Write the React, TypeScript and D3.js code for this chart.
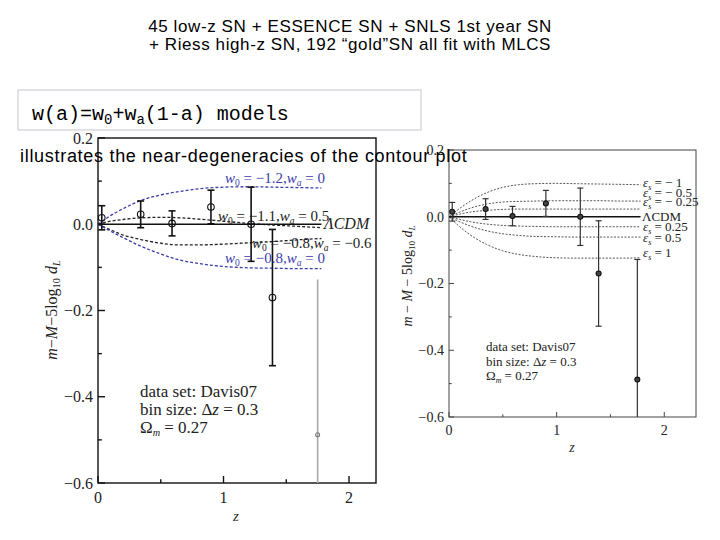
import React from 'react';
import * as d3 from 'd3';

const TITLE_LINES = [
  '45 low-z SN + ESSENCE SN + SNLS 1st year SN',
  '+ Riess high-z SN, 192 “gold”SN all fit with MLCS',
];
const SUBTITLE = 'illustrates the near-degeneracies of the contour plot';

// binned data (Davis07, bin size 0.3)
const binZ = [0.03, 0.34, 0.59, 0.9, 1.22, 1.39, 1.75];
const binMu = [0.015, 0.023, 0.002, 0.04, 0.0, -0.17, -0.488];
const binErr = [0.028, 0.031, 0.029, 0.039, 0.086, 0.158, 0.36];

// model curves
const curveZ = [0, 0.1, 0.2, 0.35, 0.5, 0.65, 0.8, 1.0, 1.2, 1.4, 1.6, 1.78];
const wBlueUp = [0, 0.02, 0.036, 0.056, 0.068, 0.076, 0.082, 0.086, 0.087, 0.086, 0.085, 0.084];
const wBlackUp = [0, 0.007, 0.011, 0.015, 0.016, 0.015, 0.012, 0.007, 0.002, -0.002, -0.005, -0.008];
const wBlackDown = [0, -0.013, -0.025, -0.036, -0.044, -0.048, -0.048, -0.046, -0.043, -0.04, -0.036, -0.033];
const wBlueDown = [0, -0.016, -0.031, -0.052, -0.069, -0.083, -0.091, -0.098, -0.101, -0.102, -0.103, -0.103];

const epsM1 = [0, 0.025, 0.047, 0.072, 0.088, 0.096, 0.099, 0.1, 0.099, 0.098, 0.097, 0.096];
const epsM05 = [0, 0.014, 0.026, 0.038, 0.044, 0.046, 0.047, 0.048, 0.048, 0.048, 0.047, 0.047];
const epsM025 = [0, 0.008, 0.014, 0.019, 0.022, 0.023, 0.023, 0.023, 0.023, 0.023, 0.023, 0.023];
const epsP025 = [0, -0.008, -0.015, -0.022, -0.026, -0.028, -0.029, -0.03, -0.03, -0.03, -0.03, -0.03];
const epsP05 = [0, -0.015, -0.028, -0.042, -0.051, -0.056, -0.059, -0.06, -0.061, -0.061, -0.061, -0.061];
const epsP1 = [0, -0.03, -0.055, -0.083, -0.102, -0.113, -0.119, -0.123, -0.124, -0.124, -0.124, -0.123];

const yTicks = [0.2, 0, -0.2, -0.4, -0.6];
const yMinor = [0.1, -0.1, -0.3, -0.5];
const xTicks = [0, 1, 2];
const xMinor = [0.5, 1.5];

const fmt = d3.format('.1f');
const SERIF = '"Liberation Serif", "Times New Roman", serif';
const SANS = '"Liberation Sans", Arial, sans-serif';

type Sc = d3.ScaleLinear<number, number>;

function curvePath(x: Sc, y: Sc, vals: number[]) {
  const line = d3
    .line<number>()
    .x((_, i) => x(curveZ[i]))
    .y((v) => y(v))
    .curve(d3.curveMonotoneX);
  return line(vals) || '';
}

function Axes({ x, y, fs, tick, labelGap, stroke, sw }: { x: Sc; y: Sc; fs: number; tick: number; labelGap: number; stroke: string; sw: number }) {
  const [x0, x1] = x.range();
  const [y0, y1] = y.range();
  return (
    <g>
      <rect x={x0} y={y1} width={x1 - x0} height={y0 - y1} fill="none" stroke={stroke} strokeWidth={sw} />
      {yTicks.map((t) => (
        <g key={'y' + t}>
          <line x1={x0} x2={x0 + tick} y1={y(t)} y2={y(t)} stroke={stroke} strokeWidth={sw} />
          <text x={x0 - 5} y={y(t)} dy="0.35em" textAnchor="end" fontFamily={SERIF} fontSize={fs} fill="#222">
            {fmt(t)}
          </text>
        </g>
      ))}
      {yMinor.map((t) => (
        <line key={'ym' + t} x1={x0} x2={x0 + tick * 0.55} y1={y(t)} y2={y(t)} stroke={stroke} strokeWidth={sw} />
      ))}
      {xTicks.map((t) => (
        <g key={'x' + t}>
          <line x1={x(t)} x2={x(t)} y1={y0} y2={y0 - tick} stroke={stroke} strokeWidth={sw} />
          <text x={x(t)} y={y0 + labelGap} textAnchor="middle" fontFamily={SERIF} fontSize={fs} fill="#222">
            {t}
          </text>
        </g>
      ))}
      {xMinor.map((t) => (
        <line key={'xm' + t} x1={x(t)} x2={x(t)} y1={y0} y2={y0 - tick * 0.55} stroke={stroke} strokeWidth={sw} />
      ))}
    </g>
  );
}

function ErrorBars({ x, y, cap, sw, r, lastGray, filled }: { x: Sc; y: Sc; cap: number; sw: number; r: number; lastGray: boolean; filled: boolean }) {
  return (
    <g>
      {binZ.map((z, i) => {
        const gray = lastGray && i === binZ.length - 1;
        const col = gray ? '#a8a8a8' : filled ? '#333' : '#111';
        const cx = x(z);
        const top = y(binMu[i] + binErr[i]);
        const bot = y(binMu[i] - binErr[i]);
        return (
          <g key={i}>
            <line x1={cx} x2={cx} y1={top} y2={bot} stroke={col} strokeWidth={sw} />
            {!gray && <line x1={cx - cap / 2} x2={cx + cap / 2} y1={top} y2={top} stroke={col} strokeWidth={sw} />}
            {!gray && <line x1={cx - cap / 2} x2={cx + cap / 2} y1={bot} y2={bot} stroke={col} strokeWidth={sw} />}
            <circle cx={cx} cy={y(binMu[i])} r={gray ? r * 0.6 : r} fill={filled ? '#444' : 'none'} stroke={gray ? '#777' : '#111'} strokeWidth={1.1} />
          </g>
        );
      })}
    </g>
  );
}

function WLabel({ x, y, w0, wa, color }: { x: number; y: number; w0: string; wa: string; color: string }) {
  return (
    <text x={x} y={y} fill={color} fontFamily={SERIF} fontSize={15}>
      <tspan fontStyle="italic">w</tspan>
      <tspan dy={3} fontSize={9.5}>0</tspan>
      <tspan dy={-3}>{` = ${w0},`}</tspan>
      <tspan fontStyle="italic">w</tspan>
      <tspan dy={3} fontSize={9.5} fontStyle="italic">a</tspan>
      <tspan dy={-3}>{` = ${wa}`}</tspan>
    </text>
  );
}

function EpsLabel({ x, y, v }: { x: number; y: number; v: string }) {
  return (
    <text x={x} y={y} fontFamily={SERIF} fontSize={13} fill="#222">
      <tspan fontStyle="italic">ε</tspan>
      <tspan dy={3} fontSize={8} fontStyle="italic">s</tspan>
      <tspan dy={-3}>{` = ${v}`}</tspan>
    </text>
  );
}

function YLabel({ cx, cy, fs, spaced }: { cx: number; cy: number; fs: number; spaced: boolean }) {
  const m = spaced ? ' − ' : '−';
  return (
    <text transform={`translate(${cx},${cy}) rotate(-90)`} textAnchor="middle" fontFamily={SERIF} fontSize={fs} fill="#222">
      <tspan fontStyle="italic">m</tspan>
      <tspan>{m}</tspan>
      <tspan fontStyle="italic">M</tspan>
      <tspan>{m + '5log'}</tspan>
      <tspan dy={3} fontSize={fs * 0.65}>10</tspan>
      <tspan dy={-3} fontStyle="italic">{' d'}</tspan>
      <tspan dy={3} fontSize={fs * 0.65} fontStyle="italic">L</tspan>
    </text>
  );
}

function Annot({ x, y, fs, lh }: { x: number; y: number; fs: number; lh: number }) {
  return (
    <g fontFamily={SERIF} fontSize={fs} fill="#222">
      <text x={x} y={y}>data set: Davis07</text>
      <text x={x} y={y + lh}>
        bin size: Δ<tspan fontStyle="italic">z</tspan> = 0.3
      </text>
      <text x={x} y={y + 2 * lh}>
        Ω<tspan dy={3} fontSize={fs * 0.6} fontStyle="italic">m</tspan>
        <tspan dy={-3}> = 0.27</tspan>
      </text>
    </g>
  );
}

export default function App() {
  const xL = d3.scaleLinear().domain([0, 2.215]).range([98, 376]);
  const yL = d3.scaleLinear().domain([-0.6, 0.2]).range([483, 138]);
  const xR = d3.scaleLinear().domain([0, 2.295]).range([449, 696]);
  const yR = d3.scaleLinear().domain([-0.6, 0.2]).range([417, 150]);
  const zEnd = curveZ[curveZ.length - 1];
  const blue = '#3c3caa';

  return (
    <svg width={720} height={540} style={{ position: 'absolute', left: 0, top: 0, background: '#fff' }}>
      <defs>
        <clipPath id="clipL">
          <rect x={98} y={138} width={278} height={345} />
        </clipPath>
        <clipPath id="clipR">
          <rect x={449} y={150} width={247} height={267} />
        </clipPath>
      </defs>
      <rect width={720} height={540} fill="#fff" />

      {/* title */}
      {TITLE_LINES.map((t, i) => (
        <text key={i} x={350} y={32 + i * 18} textAnchor="middle" fontFamily={SANS} fontSize={17} letterSpacing={0.6} fill="#000">
          {t}
        </text>
      ))}

      {/* right panel */}
      <g>
        <Axes x={xR} y={yR} fs={14} tick={5} labelGap={18} stroke="#444" sw={1} />
        <g clipPath="url(#clipR)" fill="none" stroke="#555" strokeWidth={1} strokeDasharray="2,1.5">
          {[epsM1, epsM05, epsM025, epsP025, epsP05, epsP1].map((c, i) => (
            <path key={i} d={curvePath(xR, yR, c)} />
          ))}
        </g>
        <line x1={xR(0)} x2={xR(zEnd)} y1={yR(0)} y2={yR(0)} stroke="#111" strokeWidth={1.3} />
        <g clipPath="url(#clipR)">
          <ErrorBars x={xR} y={yR} cap={6} sw={1.2} r={2.5} lastGray={false} filled={true} />
        </g>
        <EpsLabel x={643} y={187} v="− 1" />
        <EpsLabel x={643} y={197} v="− 0.5" />
        <EpsLabel x={643} y={206} v="− 0.25" />
        <text x={642} y={221} fontFamily={SERIF} fontSize={13} fill="#222">ΛCDM</text>
        <EpsLabel x={643} y={231} v="0.25" />
        <EpsLabel x={643} y={242} v="0.5" />
        <EpsLabel x={643} y={257} v="1" />
        <Annot x={486} y={351} fs={13} lh={14.5} />
        <YLabel cx={412} cy={276} fs={14} spaced={true} />
        <text x={572} y={452} textAnchor="middle" fontFamily={SERIF} fontStyle="italic" fontSize={14} fill="#333">z</text>
      </g>

      {/* left panel */}
      <g>
        <Axes x={xL} y={yL} fs={16} tick={7} labelGap={20} stroke="#111" sw={1.4} />
        <g clipPath="url(#clipL)" fill="none" strokeWidth={1.3} strokeDasharray="3,2">
          <path d={curvePath(xL, yL, wBlueUp)} stroke={blue} />
          <path d={curvePath(xL, yL, wBlackUp)} stroke="#222" />
          <path d={curvePath(xL, yL, wBlackDown)} stroke="#222" />
          <path d={curvePath(xL, yL, wBlueDown)} stroke={blue} />
        </g>
        <line x1={xL(0)} x2={xL(zEnd)} y1={yL(0)} y2={yL(0)} stroke="#111" strokeWidth={1.5} />
        <g clipPath="url(#clipL)">
          <ErrorBars x={xL} y={yL} cap={7} sw={1.6} r={3.3} lastGray={true} filled={false} />
        </g>
        <WLabel x={225} y={183} w0="−1.2" wa="0" color={blue} />
        <WLabel x={218} y={221} w0="−1.1" wa="0.5" color="#222" />
        <text x={324} y={229} fontFamily={SERIF} fontStyle="italic" fontSize={16} fill="#222">ΛCDM</text>
        <WLabel x={252} y={248} w0="−0.8" wa="−0.6" color="#222" />
        <WLabel x={225} y={263} w0="−0.8" wa="0" color={blue} />
        <Annot x={140} y={397} fs={17} lh={18} />
        <YLabel cx={57} cy={310} fs={16} spaced={false} />
        <text x={236} y={521} textAnchor="middle" fontFamily={SERIF} fontStyle="italic" fontSize={15} fill="#333">z</text>
      </g>

      {/* overlay box and subtitle */}
      <rect x={18} y={90} width={403} height={40} fill="#fff" stroke="#d0d0d8" strokeWidth={1.2} />
      <text x={32} y={120} fontFamily={'"Liberation Mono", "Courier New", monospace'} fontSize={20} fill="#000">
        w(a)=w<tspan dy={4} fontSize={14}>0</tspan>
        <tspan dy={-4}>+w</tspan>
        <tspan dy={4} fontSize={14}>a</tspan>
        <tspan dy={-4}>(1-a) models</tspan>
      </text>
      <text x={20} y={162} fontFamily={SANS} fontSize={18} letterSpacing={0.7} fill="#000">
        {SUBTITLE}
      </text>
    </svg>
  );
}
